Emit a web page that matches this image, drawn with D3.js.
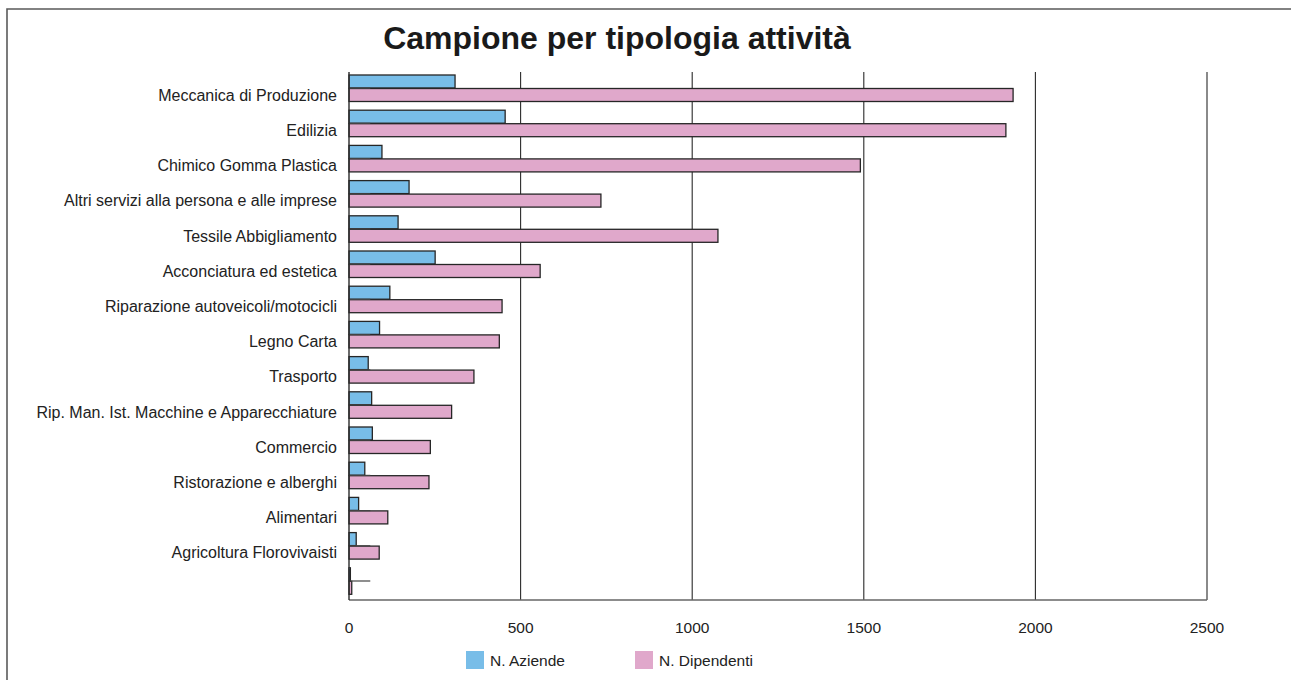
<!DOCTYPE html>
<html>
<head>
<meta charset="utf-8">
<script src="https://cdn.jsdelivr.net/npm/d3@7"></script>
<style>
  html, body { margin: 0; padding: 0; background: #fff; }
  svg { display: block; font-family: "Liberation Sans", Arial, Helvetica, sans-serif; }
</style>
</head>
<body>
<svg id="chart" width="1291" height="680"></svg>
<script>
const categories = [
  "Meccanica di Produzione",
  "Edilizia",
  "Chimico Gomma Plastica",
  "Altri servizi alla persona e alle imprese",
  "Tessile Abbigliamento",
  "Acconciatura ed estetica",
  "Riparazione autoveicoli/motocicli",
  "Legno Carta",
  "Trasporto",
  "Rip. Man. Ist. Macchine e Apparecchiature",
  "Commercio",
  "Ristorazione e alberghi",
  "Alimentari",
  "Agricoltura Florovivaisti",
  ""
];
const aziende    = [309, 455, 96, 175, 143, 251, 119, 89, 56, 66, 68, 46, 28, 21, 4];
const dipendenti = [1935, 1914, 1490, 734, 1075, 557, 446, 438, 364, 299, 237, 233, 113, 88, 8];
const xTicks = [0, 500, 1000, 1500, 2000, 2500];
const seriesNames = ["N. Aziende", "N. Dipendenti"];
const seriesColors = ["#78bde8", "#e0a8cb"];
const title = "Campione per tipologia attività";

const svg = d3.select("#chart");
const plot = { left: 349, right: 1207, top: 72, bottom: 600 };

// outer frame
svg.append("path")
  .attr("d", `M7,690 L7,9 L1300,9`)
  .attr("fill", "none").attr("stroke", "#5a5a5a").attr("stroke-width", 1.6);

const x = d3.scaleLinear().domain([0, 2500]).range([plot.left, plot.right]);
const y = d3.scaleBand().domain(d3.range(categories.length)).range([plot.top, plot.bottom]).padding(0);
const sub = d3.scaleBand().domain([0, 1]).range([3, 30]).padding(0);

// title
svg.append("text")
  .attr("x", 617).attr("y", 49)
  .attr("text-anchor", "middle")
  .attr("font-size", 32).attr("font-weight", "bold").attr("fill", "#1a1a1a")
  .text(title);

// gridlines
svg.append("g").selectAll("line")
  .data(xTicks.filter(d => d > 0))
  .join("line")
  .attr("x1", d => x(d)).attr("x2", d => x(d))
  .attr("y1", plot.top).attr("y2", plot.bottom)
  .attr("stroke", "#2a2a2a").attr("stroke-width", 1.1);

// bottom axis line
svg.append("line")
  .attr("x1", x(0)).attr("x2", x(2500))
  .attr("y1", plot.bottom).attr("y2", plot.bottom)
  .attr("stroke", "#666").attr("stroke-width", 1.4);

// bars
const rows = svg.append("g").selectAll("g")
  .data(categories.map((c, i) => ({ c, i, vals: [aziende[i], dipendenti[i]] })))
  .join("g")
  .attr("transform", d => `translate(0,${y(d.i)})`);

rows.selectAll("rect")
  .data(d => d.vals.map((v, k) => ({ v, k })))
  .join("rect")
  .attr("x", x(0))
  .attr("y", d => sub(d.k))
  .attr("width", d => x(d.v) - x(0))
  .attr("height", sub.bandwidth() - 0.5)
  .attr("fill", d => seriesColors[d.k])
  .attr("stroke", "#262626").attr("stroke-width", 1.3);

// small separator stub between the two bars of each row
rows.append("line")
  .attr("x1", x(0)).attr("x2", x(62))
  .attr("y1", sub(1) - 0.3).attr("y2", sub(1) - 0.3)
  .attr("stroke", "#444").attr("stroke-width", 1.2);

// left axis line
svg.append("line")
  .attr("x1", x(0)).attr("x2", x(0))
  .attr("y1", plot.top).attr("y2", plot.bottom)
  .attr("stroke", "#2a2a2a").attr("stroke-width", 1.4);

// category labels
svg.append("g").selectAll("text")
  .data(categories)
  .join("text")
  .attr("x", 337)
  .attr("y", (d, i) => y(i) + sub(1) + sub.bandwidth() / 2)
  .attr("dy", "0.35em")
  .attr("text-anchor", "end")
  .attr("font-size", 16).attr("fill", "#222")
  .text(d => d);

// x tick labels
svg.append("g").selectAll("text")
  .data(xTicks)
  .join("text")
  .attr("x", d => x(d))
  .attr("y", 633)
  .attr("text-anchor", "middle")
  .attr("font-size", 15.5).attr("fill", "#222")
  .text(d => d);

// legend
const legendX = [466, 635];
const lg = svg.append("g").selectAll("g")
  .data(seriesNames)
  .join("g")
  .attr("transform", (d, i) => `translate(${legendX[i]},651)`);
lg.append("rect").attr("width", 18).attr("height", 18).attr("fill", (d, i) => seriesColors[i]);
lg.append("text").attr("x", 24).attr("y", 14.5)
  .attr("font-size", 15.5).attr("fill", "#222").text(d => d);
</script>
</body>
</html>
